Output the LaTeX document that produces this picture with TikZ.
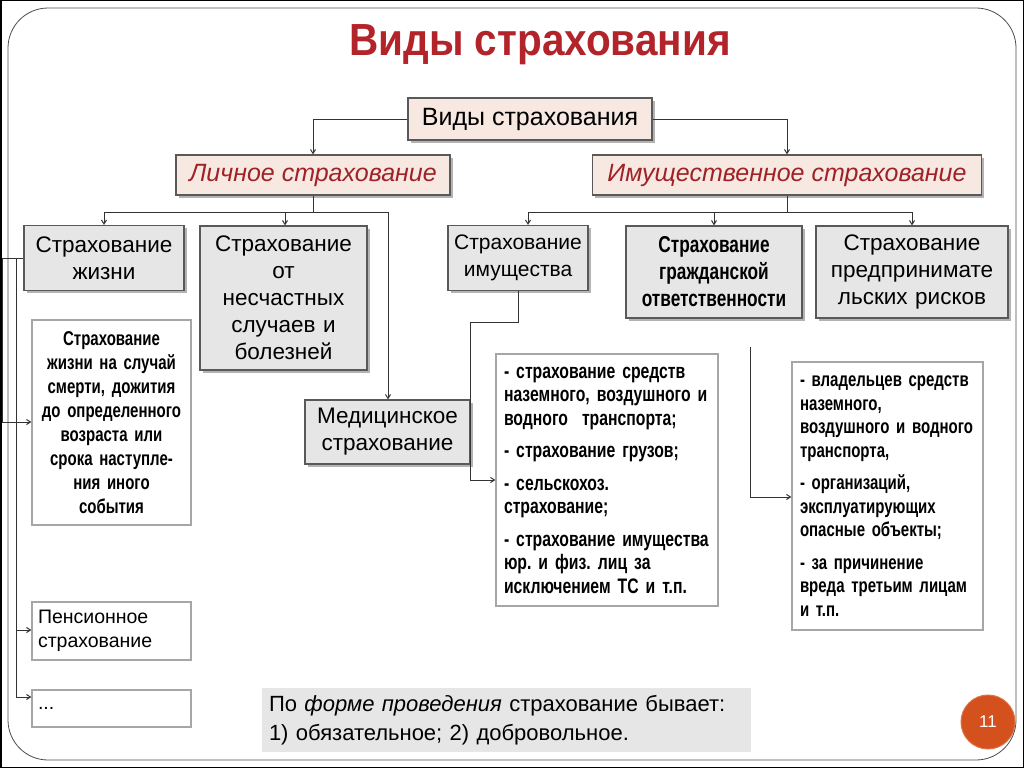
\documentclass[tikz,border=0pt]{standalone}
\usepackage{fontspec}
\setmainfont{Liberation Sans}
\newfontfamily\condb[FakeStretch=0.75]{Liberation Sans Bold}
\newfontfamily\titlef[FakeStretch=0.9]{Liberation Sans Bold}
\newfontfamily\condr{Liberation Sans}
\usetikzlibrary{shadows,arrows.meta}
\definecolor{tred}{HTML}{B3242A}
\definecolor{ired}{HTML}{9E2226}
\definecolor{pinkf}{HTML}{F8E8E2}
\definecolor{boxf}{HTML}{E6E6E6}
\definecolor{circ}{HTML}{D4501C}
\frenchspacing
\begin{document}
\begin{tikzpicture}[x=1pt,y=-1pt,
  bx/.style={draw=gray!70!black,line width=1.2pt,fill=boxf,drop shadow={shadow xshift=2.5pt,shadow yshift=-2.5pt,opacity=0.6},align=center,inner sep=0pt,font=\condr\fontsize{22.5}{27}\selectfont},
  pk/.style={bx,fill=pinkf,font=\condr\itshape\fontsize{25}{28}\selectfont,text=ired},
  dt/.style={draw=gray!70,line width=1.2pt,fill=white,inner sep=0pt},
  pl/.style={draw=gray!70,line width=1.2pt,fill=white,inner sep=0pt,align=left,font=\condr\fontsize{19.5}{24}\selectfont},
  ln/.style={draw=gray!40!black,line width=1pt},
  ar/.style={ln,-{Straight Barb[length=4pt,width=5pt]}}]
\useasboundingbox (0,0) rectangle (1024,768);
\draw[line width=1.5pt] (0.75,0.75) rectangle (1023.25,767.25);
\draw[gray!60!black,line width=0.8pt,rounded corners=40pt] (8,8) rectangle (1016,760);
\node[font=\titlef\fontsize{45}{48}\selectfont,text=tred] (title) at (540,45) {Виды страхования};
% main boxes
\node[bx,fill=pinkf,minimum width=244pt,minimum height=42pt,font=\condr\fontsize{25}{28}\selectfont] (top) at (530,119) {Виды страхования};
\node[pk,minimum width=274pt,minimum height=40pt] (lich) at (313,175) {Личное страхование};
\node[pk,minimum width=389pt,minimum height=40pt] (imu) at (787,175) {Имущественное страхование};
\node[bx,minimum width=160pt,minimum height=65pt,text width=160pt] (zh) at (104,258) {Страхование\\жизни};
\node[bx,minimum width=167pt,minimum height=144pt,text width=167pt] (ns) at (283.5,298) {Страхование\\от\\несчастных\\случаев и\\болезней};
\node[bx,minimum width=140pt,minimum height=65pt,text width=140pt,font=\condr\fontsize{21}{27}\selectfont] (im) at (518,258) {Страхование\\имущества};
\node[bx,minimum width=176pt,minimum height=92pt,text width=176pt,font=\condb\fontsize{23}{27}\selectfont] (gr) at (714,272) {Страхование\\гражданской\\ответственности};
\node[bx,minimum width=192pt,minimum height=92pt,text width=192pt] (pr) at (912,272) {Страхование\\предпринимате\\льских рисков};
\node[bx,minimum width=165pt,minimum height=64pt,text width=165pt] (med) at (387.5,432) {Медицинское\\страхование};
% details
\node[dt,minimum width=159pt,minimum height=205pt,text width=159pt,align=center,font=\condb\fontsize{20}{24}\selectfont] (d1) at (111.5,422.5) {Страхование\\жизни на случай\\смерти, дожития\\до определенного\\возраста или\\срока наступле-\\ния иного\\события};
\node[pl,minimum width=159pt,minimum height=58pt,text width=147pt] (pen) at (111.5,631) {Пенсионное\\страхование};
\node[pl,minimum width=159pt,minimum height=37pt,text width=147pt] (dots) at (111.5,708.5) {...};
\node[dt,minimum width=222pt,minimum height=252pt,text width=206pt,align=left,font=\condb\fontsize{21}{23.5}\selectfont] (d2) at (607,480) {- страхование средств\\наземного, воздушного и\\водного\ \ транспорта;\\[9pt]- страхование грузов;\\[9pt]- сельскохоз.\\страхование;\\[9pt]- страхование имущества\\юр. и физ. лиц за\\исключением ТС и т.п.};
\node[dt,minimum width=191pt,minimum height=268pt,text width=175pt,align=left,font=\condb\fontsize{20}{23.5}\selectfont] (d3) at (887.5,496) {- владельцев средств\\наземного,\\воздушного и водного\\транспорта,\\[9pt]- организаций,\\эксплуатирующих\\опасные объекты;\\[9pt]- за причинение\\вреда третьим лицам\\и т.п.};
\node[fill=boxf,minimum width=489pt,minimum height=64pt,inner sep=0pt,text width=475pt,align=left,font=\condr\fontsize{22}{29}\selectfont] (note) at (506.5,720) {По \textit{форме проведения} страхование бывает:\\1) обязательное; 2) добровольное.};
\node[circle,fill=circ,draw=circ!80!white,line width=1pt,minimum size=54pt,text=white,font=\condr\fontsize{17}{20}\selectfont] (pg) at (988,722) {11};
% connectors
\draw[ar] (top.west) -| (lich.north);
\draw[ar] (top.east) -| (imu.north);
\draw[ln] (lich.south) -- (lich.south |- 0,212);
\draw[ln] (104,212) -- (388,212);
\draw[ar] (104,212) -- (zh.north);
\draw[ar] (285,212) -- (ns.north -| 285,0);
\draw[ar] (388,212) -- (med.north -| 388,0);
\draw[ln] (imu.south) -- (imu.south |- 0,212);
\draw[ln] (528,212) -- (912,212);
\draw[ar] (528,212) -- (im.north -| 528,0);
\draw[ar] (714,212) -- (gr.north);
\draw[ar] (912,212) -- (pr.north);
\draw[ar] (im.south) -- (518,322) -- (470,322) -- (470,480) -- (d2.west |- 0,480);
\coordinate (rs) at (750,347);
\draw[ar] (rs) -- (750,497) -- (d3.west |- 0,497);
\draw[ln] (zh.west) -- (2,258);
\draw[ar] (2,258) -- (2,422) -- (d1.west |- 0,422);
\draw[ln] (16,258) -- (16,697);
\draw[ar] (16,630) -- (pen.west |- 0,630);
\draw[ar] (16,697) -- (dots.west |- 0,697);
\end{tikzpicture}
\end{document}
